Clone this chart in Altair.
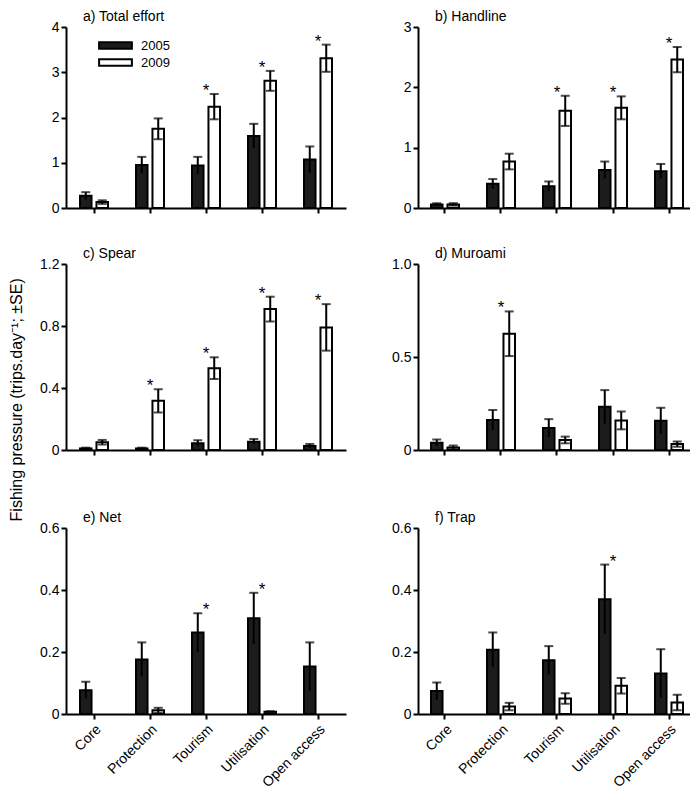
import altair as alt
import pandas as pd

FONT = "Liberation Sans"

zones = ["Core", "Protection", "Tourism", "Utilisation", "Open access"]
years = ["2005", "2009"]

# a) Total effort
total_2005 = [0.27, 0.95, 0.94, 1.59, 1.07]
total_2005_se = [0.08, 0.18, 0.19, 0.27, 0.29]
total_2009 = [0.13, 1.75, 2.24, 2.81, 3.31]
total_2009_se = [0.04, 0.23, 0.28, 0.22, 0.30]
total_sig = ["Tourism", "Utilisation", "Open access"]

# b) Handline
hand_2005 = [0.06, 0.40, 0.36, 0.63, 0.61]
hand_2005_se = [0.02, 0.08, 0.08, 0.14, 0.12]
hand_2009 = [0.06, 0.77, 1.61, 1.66, 2.46]
hand_2009_se = [0.02, 0.13, 0.25, 0.19, 0.21]
hand_sig = ["Tourism", "Utilisation", "Open access"]

# c) Spear
spear_2005 = [0.01, 0.01, 0.043, 0.054, 0.026]
spear_2005_se = [0.005, 0.005, 0.02, 0.017, 0.013]
spear_2009 = [0.05, 0.317, 0.528, 0.909, 0.791]
spear_2009_se = [0.015, 0.075, 0.07, 0.08, 0.15]
spear_sig = ["Protection", "Tourism", "Utilisation", "Open access"]

# d) Muroami
muro_2005 = [0.039, 0.161, 0.118, 0.232, 0.157]
muro_2005_se = [0.018, 0.054, 0.048, 0.09, 0.07]
muro_2009 = [0.014, 0.625, 0.054, 0.159, 0.032]
muro_2009_se = [0.01, 0.12, 0.018, 0.048, 0.014]
muro_sig = ["Protection"]

# e) Net
net_2005 = [0.077, 0.176, 0.263, 0.309, 0.153]
net_2005_se = [0.027, 0.055, 0.062, 0.082, 0.078]
net_2009 = [0.0, 0.012, 0.0, 0.007, 0.0]
net_2009_se = [0.0, 0.008, 0.0, 0.002, 0.0]
net_sig = ["Tourism", "Utilisation"]

# f) Trap
trap_2005 = [0.074, 0.207, 0.173, 0.37, 0.131]
trap_2005_se = [0.028, 0.056, 0.046, 0.112, 0.078]
trap_2009 = [0.0, 0.024, 0.05, 0.091, 0.037]
trap_2009_se = [0.0, 0.012, 0.017, 0.025, 0.025]
trap_sig = ["Utilisation"]

panels = {
    "a": ("a) Total effort", total_2005, total_2005_se, total_2009, total_2009_se, total_sig, 4, [0, 1, 2, 3, 4], True),
    "b": ("b) Handline", hand_2005, hand_2005_se, hand_2009, hand_2009_se, hand_sig, 3, [0, 1, 2, 3], True),
    "c": ("c) Spear", spear_2005, spear_2005_se, spear_2009, spear_2009_se, spear_sig, 1.2, [0, 0.4, 0.8, 1.2], False),
    "d": ("d) Muroami", muro_2005, muro_2005_se, muro_2009, muro_2009_se, muro_sig, 1.0, [0, 0.5, 1.0], False),
    "e": ("e) Net", net_2005, net_2005_se, net_2009, net_2009_se, net_sig, 0.6, [0, 0.2, 0.4, 0.6], False),
    "f": ("f) Trap", trap_2005, trap_2005_se, trap_2009, trap_2009_se, trap_sig, 0.6, [0, 0.2, 0.4, 0.6], False),
}

fill_scale = alt.Scale(domain=years, range=["#1c1c1c", "#ffffff"])
legend = alt.Legend(
    title=None, orient="none", legendX=43, legendY=12,
    symbolType="M-4.1,-0.8H4.1V0.8H-4.1Z", symbolSize=64,
    symbolStrokeWidth=2, symbolStrokeColor="black",
    labelFont=FONT, labelFontSize=13, labelColor="black",
    labelOffset=19, rowPadding=2,
)


def panel(key, bottom, right, height):
    title, m05, s05, m09, s09, sig, ymax, ticks, integer = panels[key]
    df = pd.DataFrame({
        "zone": zones * 2,
        "year": ["2005"] * 5 + ["2009"] * 5,
        "mean": m05 + m09,
        "se": s05 + s09,
    })
    df["lo"] = df["mean"] - df["se"]
    df["hi"] = df["mean"] + df["se"]
    df = df[df["mean"] > 0]
    top = df.groupby("zone")["hi"].max()
    sig_df = pd.DataFrame({"zone": sig, "hi": [top[z] for z in sig], "label": ["*"] * len(sig)})

    if right:
        xscale = alt.Scale(domain=zones, paddingInner=0.5, paddingOuter=0.17857, align=0.65)
        width = 272
    else:
        xscale = alt.Scale(domain=zones, paddingInner=0.5, paddingOuter=0.25)
        width = 280
    if bottom:
        xaxis = alt.Axis(title=None, labelAngle=315, labelAlign="right", labelBaseline="top",
                         labelPadding=3, labelFontSize=14)
    else:
        xaxis = alt.Axis(title=None, labels=False)
    x = alt.X("zone:N", sort=zones, scale=xscale, axis=xaxis)
    xo = alt.XOffset("year:N", scale=alt.Scale(domain=years, paddingInner=0.3, paddingOuter=0))
    yscale = alt.Scale(domain=[0, ymax], nice=False, zero=True)
    if integer:
        yaxis = alt.Axis(title=None, values=ticks, format="d")
    else:
        yaxis = alt.Axis(title=None, values=ticks,
                         labelExpr="datum.value == 0 ? '0' : format(datum.value, '.1f')")

    bars = alt.Chart(df).mark_bar(stroke="black", strokeWidth=2).encode(
        x=x, xOffset=xo,
        y=alt.Y("mean:Q", scale=yscale, axis=yaxis),
        fill=alt.Fill("year:N", scale=fill_scale, legend=legend),
    )
    rules = alt.Chart(df).mark_rule(color="black", strokeWidth=2).encode(
        x=x, xOffset=xo,
        y=alt.Y("lo:Q", scale=yscale, axis=yaxis), y2="hi:Q",
    )
    caps_hi = alt.Chart(df).mark_tick(color="black", thickness=2, size=9).encode(
        x=x, xOffset=xo, y=alt.Y("hi:Q", scale=yscale, axis=yaxis),
    )
    caps_lo = alt.Chart(df[df["year"] == "2009"]).mark_tick(color="black", thickness=2, size=9).encode(
        x=x, xOffset=xo, y=alt.Y("lo:Q", scale=yscale, axis=yaxis),
    )
    stars = alt.Chart(sig_df).mark_text(font=FONT, fontSize=17, color="black",
                                        baseline="alphabetic", dy=2).encode(
        x=x, y=alt.Y("hi:Q", scale=yscale, axis=yaxis), text="label:N",
    )
    return alt.layer(bars, rules, caps_hi, caps_lo, stars).properties(
        width=width, height=height,
        title=alt.TitleParams(title, anchor="start", frame="group", dx=17, offset=-4,
                              fontSize=14, fontWeight="normal", font=FONT, color="black"),
    )


col1 = alt.vconcat(
    alt.vconcat(panel("a", False, False, 181), panel("c", False, False, 186), spacing=32),
    panel("e", True, False, 186), spacing=54,
)
col2 = alt.vconcat(
    alt.vconcat(panel("b", False, True, 181), panel("d", False, True, 186), spacing=32),
    panel("f", True, True, 186), spacing=54,
)

chart = alt.hconcat(col1, col2, spacing=45).properties(
    padding={"left": 0, "top": 2, "right": 0, "bottom": 0},
    title=alt.TitleParams("Fishing pressure (trips.day⁻¹; ±SE)", orient="left", anchor="middle",
                          fontSize=16, fontWeight="normal", font=FONT, color="black", offset=15),
).configure_view(stroke=None).configure_axis(
    grid=False, domainColor="black", domainWidth=2, tickColor="black", tickWidth=2, tickSize=5,
    labelFont=FONT, labelFontSize=14, labelColor="black", labelPadding=2,
)

chart.save("out.html", embed_options={"renderer": "svg", "actions": False})
